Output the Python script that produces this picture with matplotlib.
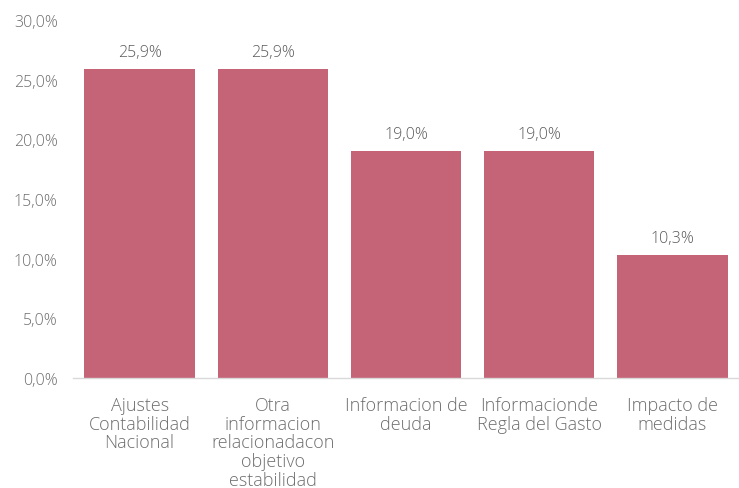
import matplotlib
matplotlib.use("Agg")
import matplotlib.pyplot as plt
from matplotlib.ticker import FuncFormatter

categories = [
    "Ajustes\nContabilidad\nNacional",
    "Otra\ninformacion\nrelacionadacon\nobjetivo\nestabilidad",
    "Informacion de\ndeuda",
    "Informacionde\nRegla del Gasto",
    "Impacto de\nmedidas",
]
values = [25.9, 25.9, 19.0, 19.0, 10.3]
y_ticks = [0, 5, 10, 15, 20, 25, 30]

bar_color = "#C56477"
tick_color = "#6E6E6E"
value_color = "#5A5A5A"

plt.rcParams["font.family"] = ["Open Sans", "DejaVu Sans"]
plt.rcParams["font.weight"] = "light"

fig = plt.figure(figsize=(7.39, 4.89), dpi=100)
ax = fig.add_axes([73 / 739, 110 / 489, 666 / 739, 358 / 489])

x = list(range(len(values)))
ax.bar(x, values, width=0.83, color=bar_color, zorder=2)

for xi, v in zip(x, values):
    ax.annotate(f"{v:.1f}%".replace(".", ","), (xi, v), xytext=(0, 6.5),
                textcoords="offset points", ha="center", va="bottom",
                fontsize=11.5, color=value_color, fontweight="light")

ax.set_xlim(-0.5, len(values) - 0.5)
ax.set_ylim(0, 30)
ax.set_yticks(y_ticks)
ax.yaxis.set_major_formatter(FuncFormatter(lambda v, p: f"{v:.1f}%".replace(".", ",")))
ax.set_xticks(x)
ax.set_xticklabels(categories, linespacing=1.05, fontsize=13, fontweight="light")
for lbl in ax.get_yticklabels():
    lbl.set_fontsize(11.5)
    lbl.set_fontweight("light")

ax.tick_params(axis="both", length=0, labelcolor=tick_color)
ax.tick_params(axis="x", pad=13)
ax.tick_params(axis="y", pad=11)

for side in ["top", "right", "left"]:
    ax.spines[side].set_visible(False)
ax.spines["bottom"].set_color("#D9D9D9")
ax.spines["bottom"].set_linewidth(1.0)

fig.savefig("out.png", dpi=100)
